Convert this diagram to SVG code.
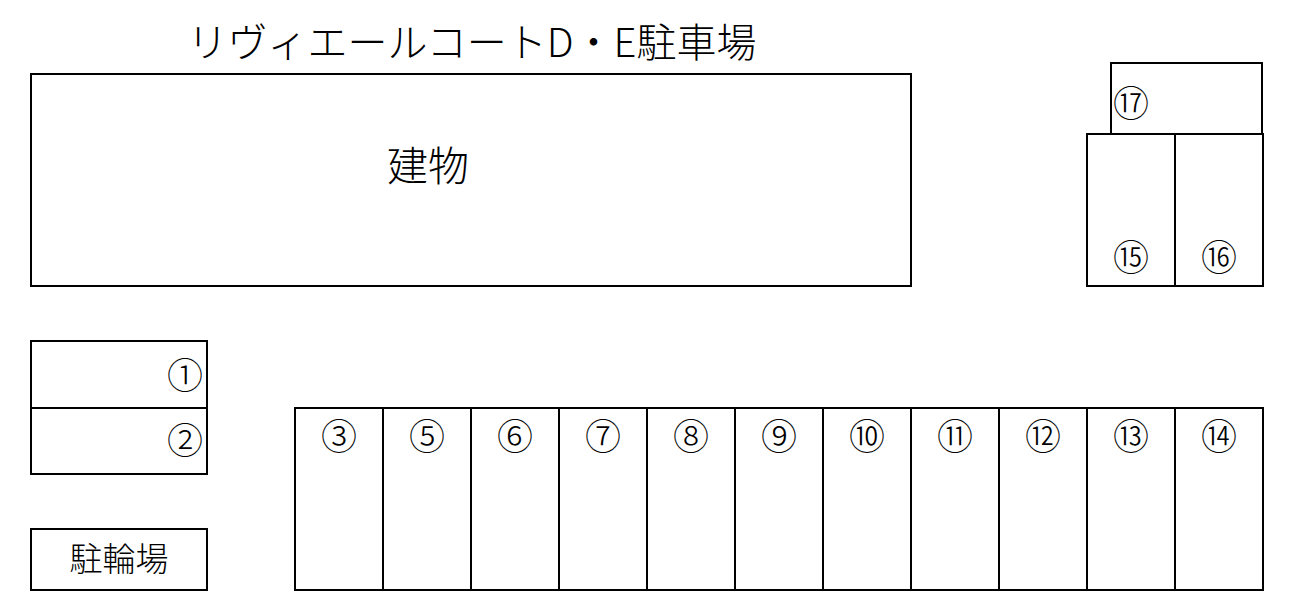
<svg xmlns="http://www.w3.org/2000/svg" width="1296" height="607" viewBox="0 0 1296 607">
<style>
.b{fill:#fff;stroke:#000;stroke-width:2}
.t{font-family:"Noto Sans CJK JP","Noto Sans",sans-serif;fill:#000;text-anchor:middle;dominant-baseline:central}
.n{font-size:36px;font-weight:300}
</style>
<rect width="1296" height="607" fill="#fff"/>
<text id="title" class="t" x="472" y="40" font-size="40" font-weight="300">リヴィエールコートD・E駐車場</text>
<g id="building"><rect class="b" x="31" y="74" width="880" height="212"/><text class="t" x="428" y="163" font-size="41" font-weight="300">建物</text></g>
<g id="s1"><rect class="b" x="31" y="341" width="176" height="67"/><text class="t n" x="185" y="373">①</text></g>
<g id="s2"><rect class="b" x="31" y="408" width="176" height="66"/><text class="t n" x="185" y="438">②</text></g>
<g id="bike"><rect class="b" x="31" y="529" width="176" height="61"/><text class="t" x="119" y="557" font-size="33" font-weight="300">駐輪場</text></g>
<g id="s3"><rect class="b" x="295" y="408" width="88" height="182"/><text class="t n" x="339" y="434">③</text></g>
<g id="s5"><rect class="b" x="383" y="408" width="88" height="182"/><text class="t n" x="427" y="434">⑤</text></g>
<g id="s6"><rect class="b" x="471" y="408" width="88" height="182"/><text class="t n" x="515" y="434">⑥</text></g>
<g id="s7"><rect class="b" x="559" y="408" width="88" height="182"/><text class="t n" x="603" y="434">⑦</text></g>
<g id="s8"><rect class="b" x="647" y="408" width="88" height="182"/><text class="t n" x="691" y="434">⑧</text></g>
<g id="s9"><rect class="b" x="735" y="408" width="88" height="182"/><text class="t n" x="779" y="434">⑨</text></g>
<g id="s10"><rect class="b" x="823" y="408" width="88" height="182"/><text class="t n" x="867" y="434">⑩</text></g>
<g id="s11"><rect class="b" x="911" y="408" width="88" height="182"/><text class="t n" x="955" y="434">⑪</text></g>
<g id="s12"><rect class="b" x="999" y="408" width="88" height="182"/><text class="t n" x="1043" y="434">⑫</text></g>
<g id="s13"><rect class="b" x="1087" y="408" width="88" height="182"/><text class="t n" x="1131" y="434">⑬</text></g>
<g id="s14"><rect class="b" x="1175" y="408" width="88" height="182"/><text class="t n" x="1219" y="434">⑭</text></g>
<g id="s17"><rect class="b" x="1111" y="63" width="151" height="71"/><text class="t n" x="1131" y="101">⑰</text></g>
<g id="s15"><rect class="b" x="1087" y="134" width="88" height="152"/><text class="t n" x="1131" y="255">⑮</text></g>
<g id="s16"><rect class="b" x="1175" y="134" width="88" height="152"/><text class="t n" x="1219" y="255">⑯</text></g>
</svg>
